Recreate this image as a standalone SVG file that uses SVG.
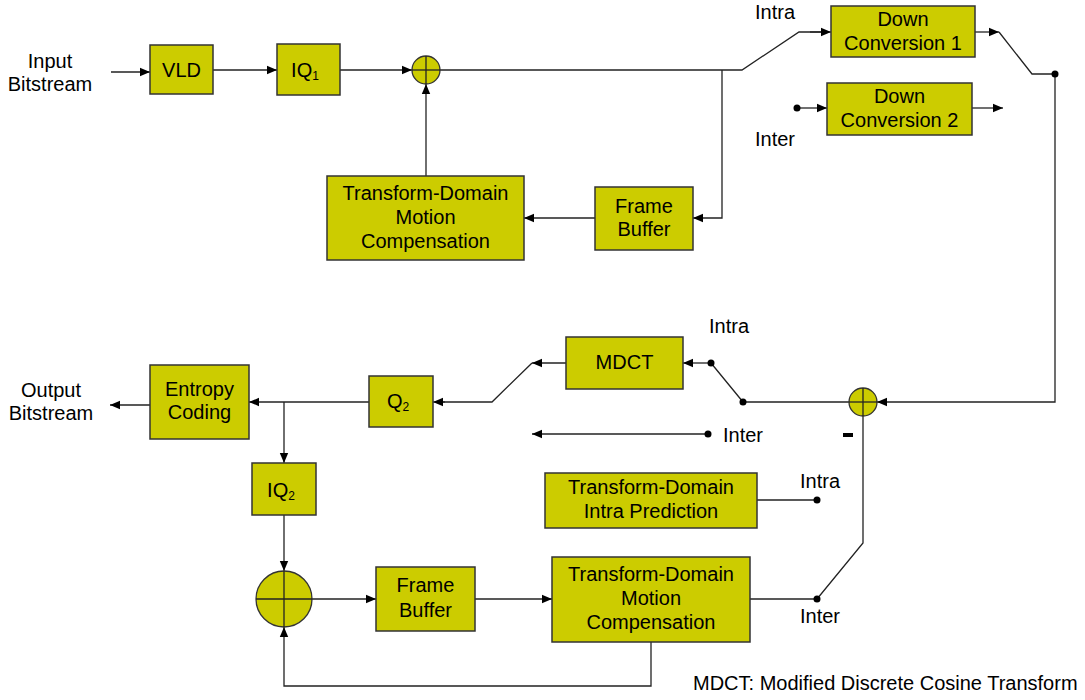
<svg xmlns="http://www.w3.org/2000/svg" width="1085" height="700" viewBox="0 0 1085 700">
<style>
.box{fill:#CCCC00;stroke:#333;stroke-width:1.5}
.t{font-family:"Liberation Sans",Arial,sans-serif;font-size:20px;fill:#000;text-anchor:middle}
.l{font-family:"Liberation Sans",Arial,sans-serif;font-size:20px;fill:#000}
.c{fill:none;stroke:#222;stroke-width:1.3}
.a{fill:none;stroke:#222;stroke-width:1.3;marker-end:url(#arr)}
.dot{fill:#000}
.sum{fill:#CCCC00;stroke:#333;stroke-width:1.3}
.x{stroke:#222;stroke-width:1.3}
</style>
<defs>
<marker id="arr" markerUnits="userSpaceOnUse" markerWidth="10" markerHeight="10" refX="10" refY="5" orient="auto">
<path d="M0,0.8 L10,5 L0,9.2 z" fill="#000"/>
</marker>
</defs>
<rect width="1085" height="700" fill="#fff"/>

<g id="connectors">
<line class="a" x1="111" y1="72" x2="150" y2="72"/>
<line class="a" x1="213" y1="70" x2="277" y2="70"/>
<line class="a" x1="340" y1="70" x2="412" y2="70"/>
<polyline class="c" points="440,70 742,70 799,32 821,32"/>
<line class="a" x1="810" y1="32" x2="831" y2="32"/>
<polyline class="a" points="722,70 722,218 693,218"/>
<line class="a" x1="595" y1="218" x2="524" y2="218"/>
<line class="a" x1="426" y1="176" x2="426" y2="84"/>
<line class="a" x1="975" y1="32" x2="999" y2="32"/>
<polyline class="c" points="999,32 1032,74 1055,74"/>
<line class="a" x1="797" y1="108" x2="827" y2="108"/>
<line class="a" x1="972" y1="108" x2="1003" y2="108"/>
<polyline class="a" points="1055,74 1055,402 877,402"/>
<polyline class="c" points="849,402 743,402 711,363"/>
<line class="a" x1="711" y1="363" x2="683" y2="363"/>
<line class="a" x1="566" y1="363" x2="532" y2="363"/>
<polyline class="c" points="532,363 492,402 440,402"/>
<line class="a" x1="445" y1="402" x2="433" y2="402"/>
<line class="a" x1="708" y1="434" x2="532" y2="434"/>
<polyline class="c" points="863,416 863,543 817,599"/>
<line class="c" x1="750" y1="599" x2="817" y2="599"/>
<line class="c" x1="757" y1="500" x2="817" y2="500"/>
<line class="a" x1="369" y1="402" x2="249" y2="402"/>
<line class="a" x1="150" y1="405" x2="110" y2="405"/>
<line class="a" x1="284" y1="402" x2="284" y2="463"/>
<line class="a" x1="284" y1="515" x2="284" y2="571"/>
<line class="a" x1="312" y1="599" x2="376" y2="599"/>
<line class="a" x1="475" y1="599" x2="552" y2="599"/>
<polyline class="a" points="651,642 651,686 284,686 284,627"/>
<circle class="dot" cx="1055" cy="74" r="3.5"/>
<circle class="dot" cx="797" cy="108" r="3.5"/>
<circle class="dot" cx="743" cy="402" r="3.5"/>
<circle class="dot" cx="711" cy="363" r="3.5"/>
<circle class="dot" cx="708" cy="434" r="3.5"/>
<circle class="dot" cx="817" cy="599" r="3.5"/>
<circle class="dot" cx="817" cy="500" r="3.5"/>
</g>

<g id="labels">
<text class="t" x="50" y="68">Input</text>
<text class="t" x="50" y="91">Bitstream</text>
<text class="t" x="51" y="397">Output</text>
<text class="t" x="51" y="420">Bitstream</text>
<text class="l" x="755" y="19">Intra</text>
<text class="l" x="755" y="146">Inter</text>
<text class="l" x="709" y="333">Intra</text>
<text class="l" x="723" y="442">Inter</text>
<text class="l" x="800" y="488">Intra</text>
<text class="l" x="800" y="623">Inter</text>
<rect x="843" y="433" width="10" height="4" fill="#000"/>
<text class="l" x="693" y="690">MDCT: Modified Discrete Cosine Transform</text>
</g>

<g id="vld"><rect class="box" x="150" y="45" width="63" height="49"/><text class="t" x="181.5" y="77">VLD</text></g>
<g id="iq1"><rect class="box" x="277" y="44" width="63" height="51"/><text class="t" x="305" y="77">IQ<tspan font-size="12" dy="3">1</tspan></text></g>
<g id="sum1"><circle class="sum" cx="426" cy="70" r="14"/><line class="x" x1="412" y1="70" x2="440" y2="70"/><line class="x" x1="426" y1="56" x2="426" y2="84"/></g>
<g id="dc1"><rect class="box" x="831" y="6" width="144" height="51"/><text class="t" x="903" y="26">Down</text><text class="t" x="903" y="50">Conversion 1</text></g>
<g id="dc2"><rect class="box" x="827" y="83" width="145" height="52"/><text class="t" x="899.5" y="103">Down</text><text class="t" x="899.5" y="127">Conversion 2</text></g>
<g id="tdmc1"><rect class="box" x="327" y="176" width="197" height="84"/><text class="t" x="425.5" y="200">Transform-Domain</text><text class="t" x="425.5" y="224">Motion</text><text class="t" x="425.5" y="248">Compensation</text></g>
<g id="fb1"><rect class="box" x="595" y="187" width="98" height="63"/><text class="t" x="644" y="213">Frame</text><text class="t" x="644" y="236">Buffer</text></g>
<g id="mdct"><rect class="box" x="566" y="337" width="117" height="52"/><text class="t" x="624.5" y="369">MDCT</text></g>
<g id="sum2"><circle class="sum" cx="863" cy="402" r="14"/><line class="x" x1="849" y1="402" x2="877" y2="402"/><line class="x" x1="863" y1="388" x2="863" y2="416"/></g>
<g id="entropy"><rect class="box" x="150" y="365" width="99" height="74"/><text class="t" x="199.5" y="396">Entropy</text><text class="t" x="199.5" y="419">Coding</text></g>
<g id="q2"><rect class="box" x="369" y="376" width="64" height="51"/><text class="t" x="398" y="408">Q<tspan font-size="12" dy="3">2</tspan></text></g>
<g id="iq2"><rect class="box" x="252" y="463" width="64" height="52"/><text class="t" x="281" y="497">IQ<tspan font-size="12" dy="3">2</tspan></text></g>
<g id="sum3"><circle class="sum" cx="284" cy="599" r="28"/><line class="x" x1="256" y1="599" x2="312" y2="599"/><line class="x" x1="284" y1="571" x2="284" y2="627"/></g>
<g id="tdip"><rect class="box" x="545" y="473" width="212" height="55"/><text class="t" x="651" y="494">Transform-Domain</text><text class="t" x="651" y="518">Intra Prediction</text></g>
<g id="fb2"><rect class="box" x="376" y="567" width="99" height="64"/><text class="t" x="425.5" y="592">Frame</text><text class="t" x="425.5" y="617">Buffer</text></g>
<g id="tdmc2"><rect class="box" x="552" y="557" width="198" height="85"/><text class="t" x="651" y="581">Transform-Domain</text><text class="t" x="651" y="605">Motion</text><text class="t" x="651" y="629">Compensation</text></g>
</svg>
